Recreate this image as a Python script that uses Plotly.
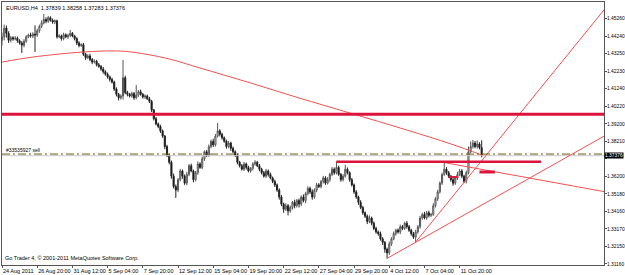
import plotly.graph_objects as go

# ---------------- data (EURUSD H4, bar index 0..218) ----------------
first_open = 1.4400
close = [
    1.4420, 1.4470, 1.4440, 1.4400, 1.4415, 1.4408, 1.4412, 1.4398, 1.4385, 1.4372,
    1.4395, 1.4420, 1.4430, 1.4425, 1.4436, 1.4430, 1.4455, 1.4480, 1.4500, 1.4520,
    1.4510, 1.4530, 1.4515, 1.4505, 1.4512, 1.4420, 1.4425, 1.4410, 1.4432, 1.4420,
    1.4428, 1.4440, 1.4425, 1.4410, 1.4385, 1.4370, 1.4375, 1.4320, 1.4300, 1.4310,
    1.4290, 1.4275, 1.4280, 1.4260, 1.4250, 1.4235, 1.4220, 1.4205, 1.4190, 1.4175,
    1.4160, 1.4120, 1.4090, 1.4070, 1.4080, 1.4185, 1.4100, 1.4090, 1.4080, 1.4095,
    1.4070, 1.4085, 1.4105, 1.4090, 1.4075, 1.4080, 1.4065, 1.4050, 1.4000, 1.3950,
    1.3920, 1.3905, 1.3880, 1.3850, 1.3790, 1.3740, 1.3700, 1.3620, 1.3560, 1.3540,
    1.3600, 1.3650, 1.3620, 1.3580, 1.3630, 1.3680, 1.3650, 1.3600, 1.3640, 1.3690,
    1.3670, 1.3720, 1.3760, 1.3740, 1.3790, 1.3820, 1.3800, 1.3850, 1.3880, 1.3860,
    1.3840, 1.3820, 1.3790, 1.3810, 1.3780, 1.3760, 1.3740, 1.3700, 1.3680, 1.3660,
    1.3690, 1.3670, 1.3650, 1.3665, 1.3690, 1.3700, 1.3680, 1.3660, 1.3640, 1.3620,
    1.3650, 1.3630, 1.3610, 1.3590, 1.3570, 1.3540, 1.3500, 1.3460, 1.3430, 1.3450,
    1.3420, 1.3440, 1.3470, 1.3450, 1.3480, 1.3460, 1.3500, 1.3480, 1.3520, 1.3550,
    1.3530, 1.3500, 1.3540, 1.3570, 1.3560, 1.3590, 1.3610, 1.3580, 1.3600, 1.3630,
    1.3660, 1.3640, 1.3670, 1.3630, 1.3600, 1.3620, 1.3660, 1.3640, 1.3600, 1.3570,
    1.3530, 1.3500, 1.3470, 1.3440, 1.3410, 1.3390, 1.3360, 1.3380, 1.3350, 1.3320,
    1.3300, 1.3290, 1.3260, 1.3240, 1.3200, 1.3180, 1.3230, 1.3260, 1.3290, 1.3310,
    1.3300, 1.3330, 1.3320, 1.3350, 1.3330, 1.3310, 1.3290, 1.3270, 1.3300, 1.3330,
    1.3380, 1.3400, 1.3380, 1.3410, 1.3395, 1.3400, 1.3450, 1.3490, 1.3530, 1.3580,
    1.3630, 1.3660, 1.3640, 1.3620, 1.3600, 1.3580, 1.3610, 1.3630, 1.3650, 1.3620,
    1.3590, 1.3640, 1.3760, 1.3790, 1.3810, 1.3790, 1.3805, 1.37839, 1.37376,
]
# upper / lower shadows in pips
upper_pips = [
    25, 20, 15, 12, 10, 8, 12, 10, 8, 10,
    12, 10, 8, 14, 10, 50, 12, 10, 15, 31,
    12, 10, 8, 10, 8, 6, 10, 8, 12, 8,
    10, 20, 8, 6, 8, 10, 8, 10, 8, 10,
    12, 8, 10, 8, 10, 8, 12, 8, 10, 8,
    10, 8, 10, 8, 10, 102, 12, 10, 8, 10,
    8, 58, 10, 12, 8, 10, 8, 10, 8, 6,
    10, 8, 10, 8, 6, 10, 8, 10, 15, 12,
    10, 12, 8, 10, 15, 10, 12, 8, 10, 15,
    10, 12, 8, 10, 12, 10, 15, 12, 45, 10,
    10, 8, 10, 12, 8, 10, 8, 10, 8, 10,
    12, 8, 10, 8, 10, 12, 8, 10, 8, 10,
    12, 8, 10, 8, 10, 8, 10, 12, 8, 15,
    10, 12, 8, 15, 10, 12, 10, 15, 10, 12,
    10, 15, 10, 12, 10, 8, 12, 10, 15, 10,
    12, 10, 35, 10, 8, 12, 25, 10, 8, 10,
    8, 10, 8, 12, 10, 8, 10, 15, 8, 10,
    10, 8, 12, 10, 8, 10, 15, 10, 12, 8,
    10, 12, 10, 8, 12, 10, 8, 10, 12, 10,
    12, 10, 15, 10, 12, 10, 15, 10, 12, 10,
    10, 38, 12, 10, 8, 12, 10, 15, 12, 10,
    8, 12, 30, 30, 18, 12, 20, 10, 42,
]
lower_pips = [
    30, 20, 25, 15, 12, 10, 8, 12, 10, 45,
    12, 10, 8, 10, 12, 97, 10, 12, 10, 8,
    12, 10, 8, 10, 12, 10, 8, 12, 10, 8,
    12, 10, 8, 10, 12, 10, 8, 10, 12, 8,
    10, 12, 8, 10, 8, 10, 12, 8, 10, 12,
    8, 10, 12, 15, 10, 20, 10, 12, 8, 10,
    12, 8, 10, 8, 10, 12, 8, 10, 12, 10,
    8, 10, 12, 10, 15, 10, 12, 15, 10, 45,
    12, 10, 15, 10, 12, 10, 8, 15, 10, 12,
    8, 10, 12, 10, 8, 10, 12, 10, 8, 12,
    10, 8, 12, 10, 15, 8, 10, 12, 10, 8,
    10, 12, 8, 10, 12, 10, 8, 12, 10, 8,
    10, 12, 8, 10, 12, 10, 15, 12, 20, 10,
    25, 10, 12, 15, 10, 20, 12, 10, 15, 10,
    12, 15, 10, 12, 8, 10, 12, 10, 8, 12,
    10, 12, 10, 8, 12, 10, 8, 10, 12, 10,
    12, 10, 15, 10, 12, 10, 15, 10, 12, 10,
    10, 12, 10, 15, 20, 32, 12, 10, 8, 12,
    10, 12, 10, 8, 12, 10, 12, 10, 28, 10,
    12, 10, 8, 10, 12, 10, 8, 10, 12, 10,
    10, 8, 12, 10, 12, 15, 10, 12, 10, 12,
    10, 12, 10, 8, 12, 10, 12, 10, 9,
]

# moving average (read at a few bars)
ma_idx = [0, 14, 37, 52, 60, 75, 90, 113, 135, 158, 184, 204, 218]
ma_val = [1.4275, 1.4304, 1.4333, 1.4339, 1.4331, 1.4296, 1.4241, 1.4155,
          1.4069, 1.3983, 1.3885, 1.3805, 1.3742]

# trend lines: (bar, price) anchors, drawn as rays to the right
steep_line = [(188, 1.3242), (218, 1.3709)]
shallow_line = [(175, 1.3148), (218, 1.3454)]
falling_line = [(201, 1.3698), (218, 1.3659)]

resistance_level = 1.3975
neck_level = 1.3703
neck_span = [152, 245]
order_level = 1.3644
order_span = [217, 224]
mark_level = 1.3615
mark_span = [203, 207]
sell_level = 1.3747
sell_label = "#33535927 sell"
bid_price = 1.37376

x_tick_idx = [0, 16, 32, 48, 64, 80, 96, 112, 128, 144, 160, 176, 192, 208]
x_tick_text = ["24 Aug 2011", "26 Aug 20:00", "31 Aug 12:00", "5 Sep 04:00",
               "7 Sep 20:00", "12 Sep 12:00", "15 Sep 04:00", "19 Sep 20:00",
               "22 Sep 12:00", "27 Sep 04:00", "29 Sep 20:00", "4 Oct 12:00",
               "7 Oct 04:00", "11 Oct 20:00"]
y_ticks = [1.31160, 1.32150, 1.33170, 1.34160, 1.35180, 1.36200, 1.37190,
           1.38210, 1.39200, 1.40220, 1.41240, 1.42230, 1.43250, 1.44240, 1.45260]
y_hidden = [1.37190]  # label covered by the bid price box

header = "EURUSD,H4  1.37839 1.38258 1.37283 1.37376"
copyright_text = "Go Trader 4, \u00a9 2001-2011 MetaQuotes Software Corp."

X_RANGE = [0, 273.6]
Y_RANGE = [1.3110, 1.4620]

# ---------------- build ----------------
n = len(close)
idx = list(range(n))
opens = [first_open] + close[:-1]
highs = [max(o, c) + u * 0.0001 for o, c, u in zip(opens, close, upper_pips)]
lows = [min(o, c) - d * 0.0001 for o, c, d in zip(opens, close, lower_pips)]

FONT = "Liberation Sans"
THIN_RED = "rgb(245,80,80)"
CRIMSON = "#dc143c"

fig = go.Figure()

# light bid line
fig.add_trace(go.Scatter(x=X_RANGE, y=[bid_price, bid_price], mode="lines",
                         line=dict(color="#c8c8c8", width=1), hoverinfo="skip"))

# MA
fig.add_trace(go.Scatter(x=ma_idx, y=ma_val, mode="lines", line_shape="spline",
                         line=dict(color=THIN_RED, width=1), hoverinfo="skip"))

fig.add_trace(go.Candlestick(
    x=idx, open=opens, high=highs, low=lows, close=close,
    increasing=dict(line=dict(color="#555555", width=1), fillcolor="#ffffff"),
    decreasing=dict(line=dict(color="#222222", width=1), fillcolor="#000000"),
    whiskerwidth=0, hoverinfo="skip"))


def ray(anchors):
    (x1, y1), (x2, y2) = anchors
    slope = (y2 - y1) / (x2 - x1)
    xe = X_RANGE[1]
    return [x1, xe], [y1, y1 + slope * (xe - x1)]


for ln in (steep_line, shallow_line, falling_line):
    xs, ys = ray(ln)
    fig.add_trace(go.Scatter(x=xs, y=ys, mode="lines",
                             line=dict(color=THIN_RED, width=1), hoverinfo="skip"))

# horizontal levels
fig.add_trace(go.Scatter(x=X_RANGE, y=[resistance_level] * 2, mode="lines",
                         line=dict(color=CRIMSON, width=3), hoverinfo="skip"))
fig.add_trace(go.Scatter(x=neck_span, y=[neck_level] * 2, mode="lines",
                         line=dict(color=CRIMSON, width=2.5), hoverinfo="skip"))
fig.add_trace(go.Scatter(x=order_span, y=[order_level] * 2, mode="lines",
                         line=dict(color=CRIMSON, width=3), hoverinfo="skip"))
fig.add_trace(go.Scatter(x=mark_span, y=[mark_level] * 2, mode="lines",
                         line=dict(color=CRIMSON, width=2), hoverinfo="skip"))
fig.add_trace(go.Scatter(x=X_RANGE, y=[sell_level] * 2, mode="lines",
                         line=dict(color="#6b5a10", width=1, dash="8px,3px,2px,3px"),
                         hoverinfo="skip"))

fig.update_layout(
    width=625, height=275,
    margin=dict(l=2, r=21, t=2, b=10, autoexpand=False),
    paper_bgcolor="white", plot_bgcolor="white",
    showlegend=False,
    font=dict(family=FONT, size=5.5, color="black"),
    xaxis=dict(range=X_RANGE, showgrid=False, zeroline=False, rangeslider=dict(visible=False),
               tickmode="array", tickvals=x_tick_idx, ticktext=x_tick_text,
               ticks="outside", ticklen=2, tickcolor="#555", tickangle=0,
               ticklabelposition="outside right", automargin=False,
               tickfont=dict(family=FONT, size=5.5, color="black"),
               showline=True, linecolor="#555", linewidth=1, mirror=True),
    yaxis=dict(range=Y_RANGE, side="right", showgrid=False, zeroline=False,
               tickmode="array", tickvals=y_ticks,
               ticktext=["" if v in y_hidden else f"{v:.5f}" for v in y_ticks],
               ticks="outside", ticklen=2, tickcolor="#555", automargin=False,
               ticklabelstandoff=-1,
               tickfont=dict(family=FONT, size=4.9, color="black"),
               showline=True, linecolor="#555", linewidth=1, mirror=True),
)

fig.add_annotation(xref="paper", yref="paper", x=0, y=1, xanchor="left", yanchor="top",
                   xshift=2, yshift=-1, showarrow=False, text=header,
                   font=dict(family=FONT, size=5.5, color="black"))
fig.add_annotation(xref="paper", yref="paper", x=0, y=0, xanchor="left", yanchor="bottom",
                   xshift=1, yshift=2, showarrow=False, text=copyright_text,
                   font=dict(family=FONT, size=5.5, color="black"))
fig.add_annotation(xref="paper", yref="y", x=0, y=sell_level, xanchor="left", yanchor="bottom",
                   xshift=2, yshift=-1, showarrow=False, text=sell_label,
                   font=dict(family=FONT, size=5, color="black"))
fig.add_annotation(xref="paper", yref="y", x=1, y=bid_price, xanchor="left", yanchor="middle",
                   xshift=0, showarrow=False, text=f"{bid_price:.5f}", bgcolor="black",
                   borderpad=0, font=dict(family=FONT, size=4.9, color="white"))

fig.write_html("out.html")
